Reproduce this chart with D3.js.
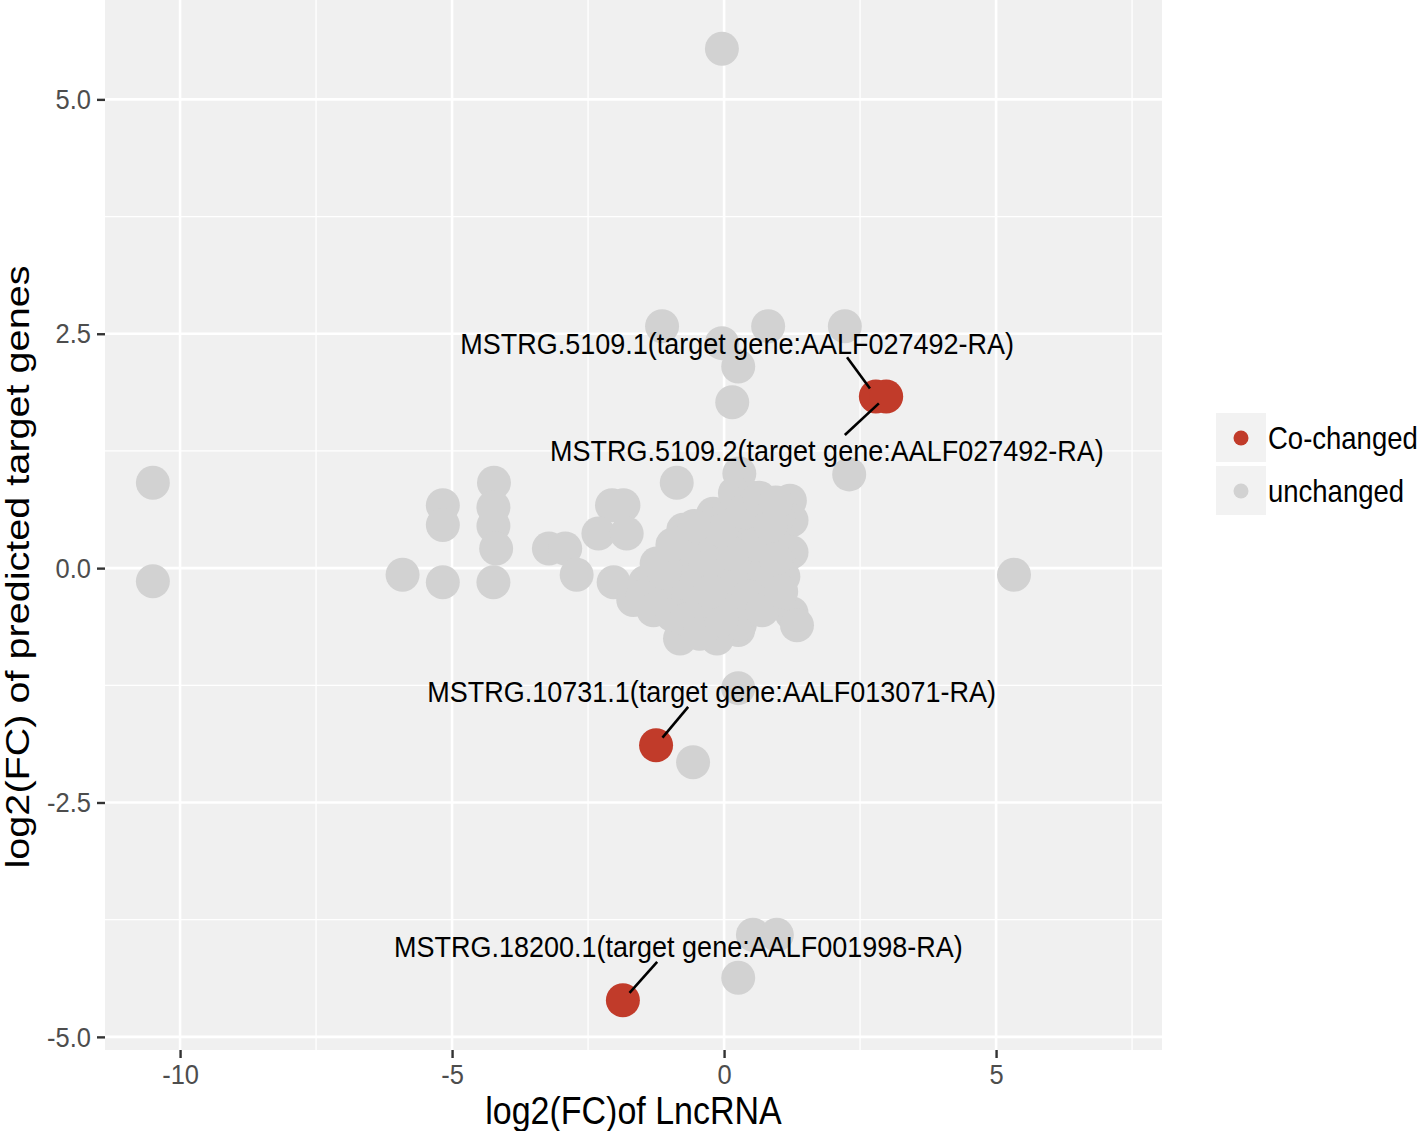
<!DOCTYPE html>
<meta charset="utf-8">
<script src="https://d3js.org/d3.v7.min.js"></script>
<style>
  body { margin: 0; background: #fff; }
  text { font-family: "Liberation Sans", Arial, sans-serif; }
</style>
<div id="my_dataviz"></div>
<script>
// unchanged lncRNA / target pairs: [log2FC lncRNA, log2FC target]
var unchanged = [
  [-0.04, 5.54],
  [-1.14, 2.58], [-0.04, 2.40], [0.81, 2.58], [2.22, 2.58], [0.26, 2.15], [0.15, 1.77], [2.30, 1.00],
  [5.33, -0.07],
  [-10.5, 0.91], [-10.5, -0.14],
  [0.26, -1.28], [-0.57, -2.07], [0.53, -3.91], [0.97, -3.91], [0.26, -4.37],
  [-5.91, -0.07], [-5.17, 0.67], [-5.17, 0.46], [-5.17, -0.15],
  [-4.23, 0.91], [-4.24, 0.65], [-4.24, 0.45], [-4.19, 0.21], [-4.24, -0.15],
  [-3.22, 0.21], [-2.92, 0.21], [-2.71, -0.07],
  [-2.06, 0.67], [-1.85, 0.67], [-2.31, 0.37], [-1.79, 0.37], [-0.87, 0.91], [0.28, 1.01],
  [-2.03, -0.15], [-1.67, -0.34], [-0.81, -0.75], [-0.13, -0.75], [0.26, -0.66],
  [1.24, -0.48], [1.34, -0.61], [1.21, 0.72], [1.24, 0.51], [1.24, 0.17], [1.09, -0.09],
  [-0.75, 0.41], [-0.20, 0.58], [0.42, 0.69], [-1.24, 0.05], [-1.18, -0.34], [0.60, -0.16],
  [0.61, 0.69], [-0.44, -0.48], [-0.86, -0.42], [0.66, -0.23], [0.29, -0.60],
  [-0.90, 0.00], [-0.60, 0.10], [-0.50, -0.20], [-0.30, 0.30], [-0.20, -0.10], [0.00, 0.10],
  [0.10, 0.40], [0.20, -0.30], [0.30, 0.20], [0.50, 0.40], [0.60, 0.05], [0.80, 0.30],
  [0.90, -0.10], [0.70, 0.55], [-0.10, -0.40], [0.40, -0.45], [-0.60, -0.30], [0.05, 0.55],
  [-0.45, 0.25], [1.00, 0.55], [0.20, 0.80], [0.50, 0.75], [-1.00, -0.20], [-1.45, -0.15],
  [-0.30, -0.60], [0.85, -0.35], [1.05, 0.20],
  [-1.50, -0.30], [-1.30, -0.45], [-0.95, -0.50], [-0.70, -0.55], [-0.45, -0.70], [-0.05, -0.55],
  [0.10, -0.15], [0.35, -0.05], [-0.35, 0.00], [-0.75, -0.15], [-1.10, -0.05], [-0.15, 0.25],
  [0.25, 0.50], [0.55, 0.25], [0.75, -0.05], [0.95, 0.10], [0.45, -0.30], [0.15, 0.15],
  [-0.05, 0.40], [0.35, 0.60], [-0.55, 0.45], [-0.40, -0.35], [0.70, -0.45], [1.05, -0.25],
  [0.85, 0.45], [-0.95, 0.25], [-0.25, -0.25], [0.65, 0.75], [0.95, 0.70]
];

// co-changed pairs
var coNames = [
  "MSTRG.5109.1(target gene:AALF027492-RA)",
  "MSTRG.5109.2(target gene:AALF027492-RA)",
  "MSTRG.10731.1(target gene:AALF013071-RA)",
  "MSTRG.18200.1(target gene:AALF001998-RA)"
];
var coX = [2.79, 2.98, -1.25, -1.86];
var coY = [1.83, 1.83, -1.89, -4.61];
// where each repelled label sits (data units) and where its segment stops
var labelX = [0.24, 1.89, -0.23, -0.84];
var labelY = [2.40, 1.26, -1.31, -4.03];
var segEndX = [2.26, 2.22, -0.66, -1.23];
var segEndY = [2.25, 1.42, -1.48, -4.20];

var xTicks = [-10, -5, 0, 5];
var yTicks = [-5, -2.5, 0, 2.5, 5];
var xMinor = [-7.5, -2.5, 2.5, 7.5];
var yMinor = [-3.75, -1.25, 1.25, 3.75];

var legendKeys = ["Co-changed", "unchanged"];
var legendColors = ["#c13b2a", "#d2d2d2"];

var margin = {top: 0, right: 255, bottom: 81, left: 105},
    width = 1417 - margin.left - margin.right,
    height = 1131 - margin.top - margin.bottom;

var root = d3.select("#my_dataviz")
  .append("svg")
    .attr("width", 1417)
    .attr("height", 1131);
var svg = root.append("g")
    .attr("transform", "translate(" + margin.left + "," + margin.top + ")");

var x = d3.scaleLinear().domain([-11.38, 8.05]).range([0, width]);
var y = d3.scaleLinear().domain([-5.14, 6.06]).range([height, 0]);

// the original text is a bit taller than Arial at the same width
var stretch = 1.12;

// panel
svg.append("rect").attr("width", width).attr("height", height).attr("fill", "#f0f0f0");

// grid
svg.selectAll(".xminor").data(xMinor).enter().append("line")
  .attr("x1", d => x(d)).attr("x2", d => x(d)).attr("y1", 0).attr("y2", height)
  .attr("stroke", "#fff").attr("stroke-width", 1.3);
svg.selectAll(".yminor").data(yMinor).enter().append("line")
  .attr("y1", d => y(d)).attr("y2", d => y(d)).attr("x1", 0).attr("x2", width)
  .attr("stroke", "#fff").attr("stroke-width", 1.3);
svg.selectAll(".xmajor").data(xTicks).enter().append("line")
  .attr("x1", d => x(d)).attr("x2", d => x(d)).attr("y1", 0).attr("y2", height)
  .attr("stroke", "#fff").attr("stroke-width", 2.6);
svg.selectAll(".ymajor").data(yTicks).enter().append("line")
  .attr("y1", d => y(d)).attr("y2", d => y(d)).attr("x1", 0).attr("x2", width)
  .attr("stroke", "#fff").attr("stroke-width", 2.6);

// axes
var xAxis = svg.append("g")
  .attr("transform", "translate(0," + height + ")")
  .call(d3.axisBottom(x).tickValues(xTicks).tickSize(8).tickPadding(4));
var yAxis = svg.append("g")
  .call(d3.axisLeft(y).tickValues(yTicks).tickSize(8).tickPadding(6));
[xAxis, yAxis].forEach(function(a) {
  a.select(".domain").remove();
  a.selectAll(".tick line").attr("stroke", "#333").attr("stroke-width", 2.4);
  a.selectAll(".tick text").attr("fill", "#4d4d4d").style("font-size", "25.5px")
    .style("font-family", "'Liberation Sans', Arial, sans-serif")
    .attr("transform", "scale(1," + stretch + ")");
});
xAxis.selectAll(".tick text").text(d => d < 0 ? "-" + Math.abs(d) : d);
yAxis.selectAll(".tick text").text(d => (d < 0 ? "-" : "") + Math.abs(d).toFixed(1));

// axis titles
root.append("text")
  .attr("transform", "translate(" + (margin.left + width / 2) + "," + (height + 74) + ") scale(1," + stretch + ")")
  .attr("text-anchor", "middle").style("font-size", "34px").text("log2(FC)of LncRNA");
root.append("text")
  .attr("transform", "translate(29,567) rotate(-90) scale(1.2,1)")
  .attr("text-anchor", "middle").style("font-size", "33px").text("log2(FC) of predicted target genes");

// points
var r = 17;
svg.append("g").selectAll("circle").data(unchanged).enter().append("circle")
  .attr("cx", d => x(d[0])).attr("cy", d => y(d[1])).attr("r", r)
  .attr("fill", legendColors[1]);

var co = coNames.map(function(n, i) {
  return {name: n, x: coX[i], y: coY[i], lx: labelX[i], ly: labelY[i], ex: segEndX[i], ey: segEndY[i]};
});
svg.append("g").selectAll("circle").data(co).enter().append("circle")
  .attr("cx", d => x(d.x)).attr("cy", d => y(d.y)).attr("r", r)
  .attr("fill", legendColors[0]);

// label segments start a little inside the point, toward the label
svg.append("g").selectAll("line").data(co).enter().append("line")
  .attr("x1", function(d) {
    var dx = x(d.ex) - x(d.x), dy = y(d.ey) - y(d.y), l = Math.hypot(dx, dy);
    return x(d.x) + dx / l * 10;
  })
  .attr("y1", function(d) {
    var dx = x(d.ex) - x(d.x), dy = y(d.ey) - y(d.y), l = Math.hypot(dx, dy);
    return y(d.y) + dy / l * 10;
  })
  .attr("x2", d => x(d.ex)).attr("y2", d => y(d.ey))
  .attr("stroke", "#000").attr("stroke-width", 2.6);

svg.append("g").selectAll("text").data(co).enter().append("text")
  .attr("transform", d => "translate(" + x(d.lx) + "," + y(d.ly) + ") scale(1," + stretch + ")")
  .attr("dy", "0.36em")
  .attr("text-anchor", "middle")
  .style("font-size", "27px")
  .text(d => d.name);

// legend
var legend = root.append("g").attr("transform", "translate(1216,413)");
legendKeys.forEach(function(k, i) {
  var g = legend.append("g").attr("transform", "translate(0," + (i * 53) + ")");
  g.append("rect").attr("width", 50).attr("height", 49).attr("fill", "#f2f2f2");
  g.append("circle").attr("cx", 25).attr("cy", 25).attr("r", 7.5).attr("fill", legendColors[i]);
  g.append("text").attr("transform", "translate(52,25) scale(1," + stretch + ")").attr("dy", "0.36em")
    .style("font-size", "27.5px").text(k);
});
</script>
